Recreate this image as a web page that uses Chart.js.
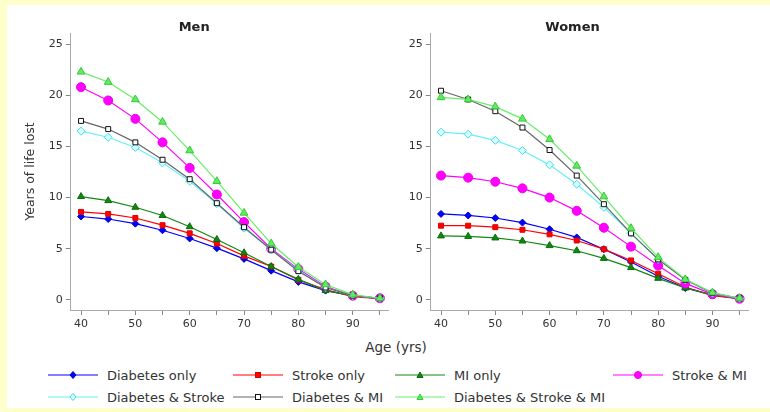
<!DOCTYPE html>
<html>
<head>
<meta charset="utf-8">
<script src="https://cdn.jsdelivr.net/npm/chart.js@4"></script>
<style>
  html, body { margin: 0; padding: 0; }
  body {
    width: 770px; height: 412px; position: relative; overflow: hidden;
    background: #ffffcc; font-family: 'DejaVu Sans', sans-serif; color: #333;
  }
  #panel { position: absolute; left: 7px; top: 5px; width: 763px; height: 403px; background: #fff; }
  canvas { position: absolute; top: 0; }
  #men { left: 0; }
  #women { left: 397px; }
  #xtitle {
    position: absolute; left: 296px; width: 200px; top: 338px;
    text-align: center; font-size: 13.5px; line-height: 18px;
  }
  .lg { position: absolute; height: 18px; display: flex; align-items: center; white-space: nowrap; font-size: 13px; }
  .lg svg { margin-right: 9px; }
</style>
</head>
<body>
<div id="panel"></div>
<canvas id="men" width="423" height="335"></canvas>
<canvas id="women" width="373" height="335"></canvas>
<div id="xtitle">Age (yrs)</div>
<div id="legend"></div>

<script>
// Age at which the condition is present (years)
const ages = [40, 45, 50, 55, 60, 65, 70, 75, 80, 85, 90, 95];
const xTicks = [40, 45, 50, 55, 60, 65, 70, 75, 80, 85, 90, 95];
const yTicks = [0, 5, 10, 15, 20, 25];

const seriesNames = [
  'Diabetes only', 'Stroke only', 'MI only', 'Stroke & MI',
  'Diabetes & Stroke', 'Diabetes & MI', 'Diabetes & Stroke & MI'
];

// Years of life lost — men
const menDiabetes      = [8.15, 7.9, 7.45, 6.8, 6.0, 5.05, 4.0, 2.85, 1.75, 0.9, 0.4, 0.1];
const menStroke        = [8.6, 8.4, 8.0, 7.3, 6.5, 5.5, 4.3, 3.25, 1.95, 1.0, 0.3, 0.1];
const menMI            = [10.1, 9.7, 9.05, 8.25, 7.15, 5.9, 4.6, 3.25, 2.0, 0.9, 0.4, 0.15];
const menStrokeMI      = [20.8, 19.5, 17.7, 15.4, 12.9, 10.3, 7.6, 5.0, 3.0, 1.3, 0.4, 0.15];
const menDiabStroke    = [16.5, 15.9, 14.9, 13.4, 11.6, 9.4, 7.0, 4.9, 2.9, 1.2, 0.4, 0.15];
const menDiabMI        = [17.5, 16.7, 15.4, 13.7, 11.8, 9.45, 7.1, 4.9, 2.8, 1.2, 0.4, 0.15];
const menDiabStrokeMI  = [22.3, 21.3, 19.6, 17.4, 14.6, 11.6, 8.5, 5.5, 3.2, 1.5, 0.5, 0.15];

// Years of life lost — women
const womenDiabetes     = [8.4, 8.25, 8.0, 7.55, 6.9, 6.1, 4.95, 3.7, 2.3, 1.15, 0.45, 0.1];
const womenStroke       = [7.25, 7.25, 7.1, 6.85, 6.4, 5.8, 4.95, 3.85, 2.55, 1.25, 0.4, 0.1];
const womenMI           = [6.25, 6.2, 6.05, 5.75, 5.3, 4.8, 4.05, 3.15, 2.1, 1.15, 0.5, 0.1];
const womenStrokeMI     = [12.15, 11.95, 11.55, 10.9, 10.0, 8.7, 7.05, 5.2, 3.35, 1.6, 0.55, 0.1];
const womenDiabStroke   = [16.4, 16.2, 15.6, 14.6, 13.2, 11.3, 9.05, 6.5, 3.95, 1.95, 0.65, 0.15];
const womenDiabMI       = [20.45, 19.6, 18.45, 16.85, 14.65, 12.15, 9.35, 6.5, 3.95, 1.95, 0.65, 0.15];
const womenDiabStrokeMI = [19.8, 19.6, 18.9, 17.7, 15.7, 13.1, 10.1, 7.0, 4.15, 2.0, 0.7, 0.15];

const menSeries = [menDiabetes, menStroke, menMI, menStrokeMI, menDiabStroke, menDiabMI, menDiabStrokeMI];
const womenSeries = [womenDiabetes, womenStroke, womenMI, womenStrokeMI, womenDiabStroke, womenDiabMI, womenDiabStrokeMI];

// Line and marker look of each series
const looks = [
  { line: '#0000ff', fill: '#0000ff', edge: '#0000cc', shape: 'rectRot',  r: 3.5 },
  { line: '#ff0000', fill: '#ff0000', edge: '#dd0000', shape: 'rect',     r: 3.5 },
  { line: '#118811', fill: '#118811', edge: '#0b6b0b', shape: 'triangle', r: 4 },
  { line: '#ff00ff', fill: '#ff00ff', edge: '#ee00ee', shape: 'circle',   r: 4.5 },
  { line: '#66f0f8', fill: '#d8ffff', edge: '#44dde8', shape: 'rectRot',  r: 4 },
  { line: '#666666', fill: '#ffffff', edge: '#111111', shape: 'rect',     r: 3.5 },
  { line: '#66ee66', fill: '#66e866', edge: '#33cc33', shape: 'triangle', r: 4.5 }
];

Chart.defaults.font.family = "'DejaVu Sans', sans-serif";
Chart.defaults.color = '#333';

function buildDatasets(series) {
  return series.map((vals, i) => ({
    label: seriesNames[i],
    data: ages.map((a, k) => ({ x: a, y: vals[k] })),
    borderColor: looks[i].line,
    borderWidth: 1.2,
    pointStyle: looks[i].shape,
    pointRadius: looks[i].r,
    pointBackgroundColor: looks[i].fill,
    pointBorderColor: looks[i].edge,
    pointBorderWidth: 1,
    tension: 0,
    order: -i
  }));
}

function makeChart(id, title, series, yWidth, padRight, showYTitle) {
  return new Chart(document.getElementById(id), {
    type: 'line',
    data: { datasets: buildDatasets(series) },
    options: {
      responsive: false,
      animation: false,
      devicePixelRatio: 1,
      layout: { padding: { left: 0, right: padRight, top: 0, bottom: 0 } },
      plugins: {
        legend: { display: false },
        tooltip: { enabled: false },
        title: {
          display: true, text: title, color: '#222',
          font: { size: 13, weight: 'bold', lineHeight: 1 },
          padding: { top: 21, bottom: -1 }
        }
      },
      scales: {
        x: {
          type: 'linear', min: 38.1, max: 96.55,
          afterBuildTicks: s => { s.ticks = xTicks.map(v => ({ value: v })); },
          afterFit: s => { s.height = 25; },
          ticks: {
            font: { size: 11 }, color: '#333', padding: 3, maxRotation: 0, autoSkip: false,
            callback: v => (v % 10 === 0 && v < 95) ? String(v) : ''
          },
          grid: { drawOnChartArea: false, drawTicks: true, tickLength: 5, color: '#888' },
          border: { display: true, color: '#aaa', width: 1 }
        },
        y: {
          min: -1, max: 26.1,
          afterBuildTicks: s => { s.ticks = yTicks.map(v => ({ value: v })); },
          afterFit: s => { s.width = yWidth; },
          ticks: { font: { size: 11 }, color: '#333', padding: 3 },
          grid: { drawOnChartArea: false, drawTicks: true, tickLength: 5, color: '#888' },
          border: { display: true, color: '#aaa', width: 1 },
          title: {
            display: showYTitle, text: 'Years of life lost', color: '#333',
            font: { size: 12.5 }, padding: { top: 23, bottom: 0 }
          }
        }
      }
    }
  });
}

makeChart('men', 'Men', menSeries, 70.7, 34.7, true);
makeChart('women', 'Women', womenSeries, 33.7, 22, false);

// Legend: four columns, two rows
const legendCols = [48, 233, 395, 613];
const legendRows = [375, 397];
const legendSlots = [[0, 0], [0, 1], [0, 2], [0, 3], [1, 0], [1, 1], [1, 2]];

function markerSvg(lk) {
  const c = 25, m = 6;
  let shape = '';
  if (lk.shape === 'circle') {
    shape = `<circle cx="${c}" cy="${m}" r="3.5" fill="${lk.fill}" stroke="${lk.edge}"/>`;
  } else if (lk.shape === 'rect') {
    shape = `<rect x="${c - 2.5}" y="${m - 2.5}" width="5" height="5" fill="${lk.fill}" stroke="${lk.edge}"/>`;
  } else if (lk.shape === 'rectRot') {
    shape = `<polygon points="${c},${m - 3.5} ${c + 3},${m} ${c},${m + 3.5} ${c - 3},${m}" fill="${lk.fill}" stroke="${lk.edge}"/>`;
  } else {
    shape = `<polygon points="${c},${m - 3} ${c + 3},${m + 2.5} ${c - 3},${m + 2.5}" fill="${lk.fill}" stroke="${lk.edge}"/>`;
  }
  return `<svg width="50" height="12" viewBox="0 0 50 12"><line x1="0" y1="${m}" x2="50" y2="${m}" stroke="${lk.line}" stroke-width="1.2"/>${shape}</svg>`;
}

const legend = document.getElementById('legend');
seriesNames.forEach((name, i) => {
  const [r, c] = legendSlots[i];
  const item = document.createElement('div');
  item.className = 'lg';
  item.style.left = legendCols[c] + 'px';
  item.style.top = (legendRows[r] - 9) + 'px';
  item.innerHTML = markerSvg(looks[i]) + '<span>' + name.replace(/&/g, '&amp;') + '</span>';
  legend.appendChild(item);
});
</script>
</body>
</html>
